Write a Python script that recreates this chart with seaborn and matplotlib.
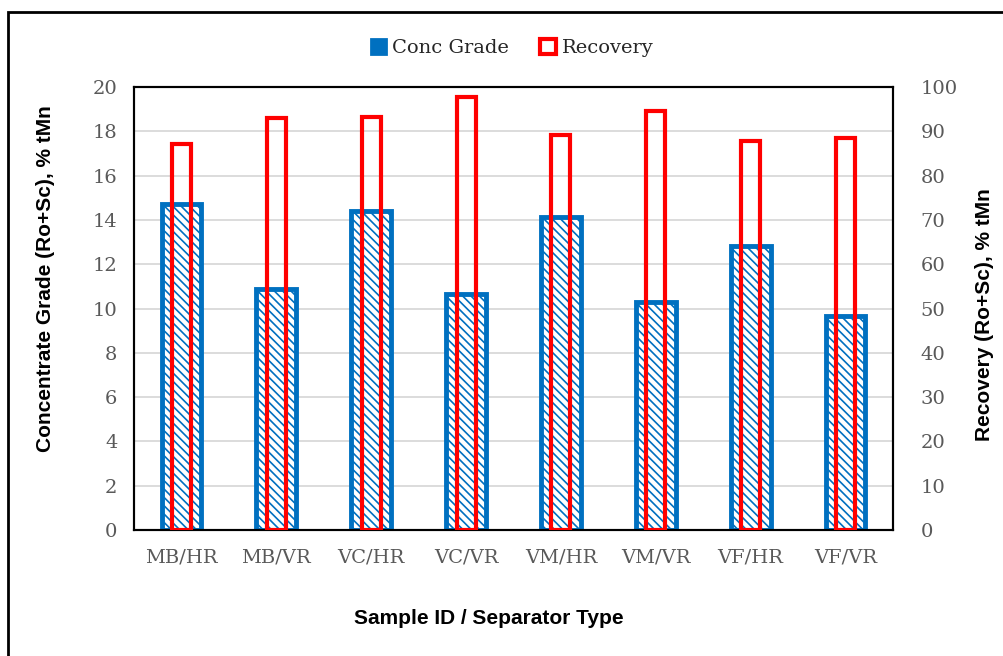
import matplotlib
matplotlib.use("Agg")
import matplotlib.pyplot as plt
import matplotlib.patches as mpatches
import seaborn as sns
import pandas as pd

samples = ["MB/HR", "MB/VR", "VC/HR", "VC/VR", "VM/HR", "VM/VR", "VF/HR", "VF/VR"]
conc_grade = [14.7, 10.9, 14.4, 10.65, 14.15, 10.3, 12.8, 9.65]
recovery = [87.1, 93.0, 93.2, 97.7, 89.2, 94.5, 87.8, 88.6]

blue = "#0070C0"
red = "#FF0000"
grey = "#595959"

sns.set_style("white")
plt.rcParams["hatch.color"] = blue
plt.rcParams["hatch.linewidth"] = 1.2

df = pd.DataFrame({"sample": samples, "grade": conc_grade, "rec": recovery})

fig = plt.figure(figsize=(10.04, 6.56), dpi=100)
ax = fig.add_axes([134 / 1004, 1 - 530 / 656, (893 - 134) / 1004, (530 - 87) / 656])
ax2 = ax.twinx()

sns.barplot(data=df, x="sample", y="grade", ax=ax, width=0.42, color="white",
            edgecolor=blue, linewidth=3.5, hatch="\\\\\\\\", zorder=2)
sns.barplot(data=df, x="sample", y="rec", ax=ax2, width=0.2, fill=False,
            edgecolor=red, linewidth=3, zorder=3)
for p in ax2.patches:
    p.set_facecolor("none")
    p.set_edgecolor(red)

ax.set_ylim(0, 20)
ax.set_yticks(range(0, 21, 2))
ax2.set_ylim(0, 100)
ax2.set_yticks(range(0, 101, 10))
ax.set_xlim(-0.5, len(samples) - 0.5)
ax.grid(axis="y", color="#D9D9D9", linewidth=1.3, zorder=0)
ax.set_axisbelow(True)

serif = ["DejaVu Serif"]
for a in (ax, ax2):
    a.tick_params(length=0, labelsize=14, labelcolor=grey)
    for lab in a.get_xticklabels() + a.get_yticklabels():
        lab.set_family(serif)
    for s in a.spines.values():
        s.set_color("black")
        s.set_linewidth(1.5)
ax.tick_params(axis="y", pad=12)
ax2.tick_params(axis="y", pad=20)
ax.tick_params(axis="x", pad=13)

lab_font = dict(fontsize=15, fontweight="bold", family="Liberation Sans", color="black")
ax.set_xlabel("Sample ID / Separator Type", va="top", **lab_font)
ax.xaxis.set_label_coords((489 - 134) / 759, (530 - 609) / 443)
ax.set_ylabel("Concentrate Grade (Ro+Sc), % tMn", va="center", **lab_font)
ax.yaxis.set_label_coords((46 - 134) / 759, (530 - 279) / 443)
ax2.set_ylabel("Recovery (Ro+Sc), % tMn", va="center", **lab_font)
ax2.yaxis.set_label_coords((985 - 134) / 759, (530 - 315) / 443)

handles = [mpatches.Patch(facecolor=blue, edgecolor=blue, linewidth=2),
           mpatches.Patch(facecolor="white", edgecolor=red, linewidth=3)]
fig.legend(handles, ["Conc Grade", "Recovery"], loc="center", bbox_to_anchor=(512 / 1004, 1 - 48 / 656),
           ncol=2, frameon=False, prop={"family": serif, "size": 14},
           handlelength=0.8, handleheight=0.8, handletextpad=0.3, columnspacing=1.6)

# outer chart frame, clipped at right and bottom like the reference
fig.patches.append(mpatches.Rectangle((8 / 1004, -0.05), 1.1, 1 - 12 / 656 + 0.05,
                                      transform=fig.transFigure, fill=False,
                                      edgecolor="black", linewidth=2))

fig.savefig("out.png", dpi=100)
